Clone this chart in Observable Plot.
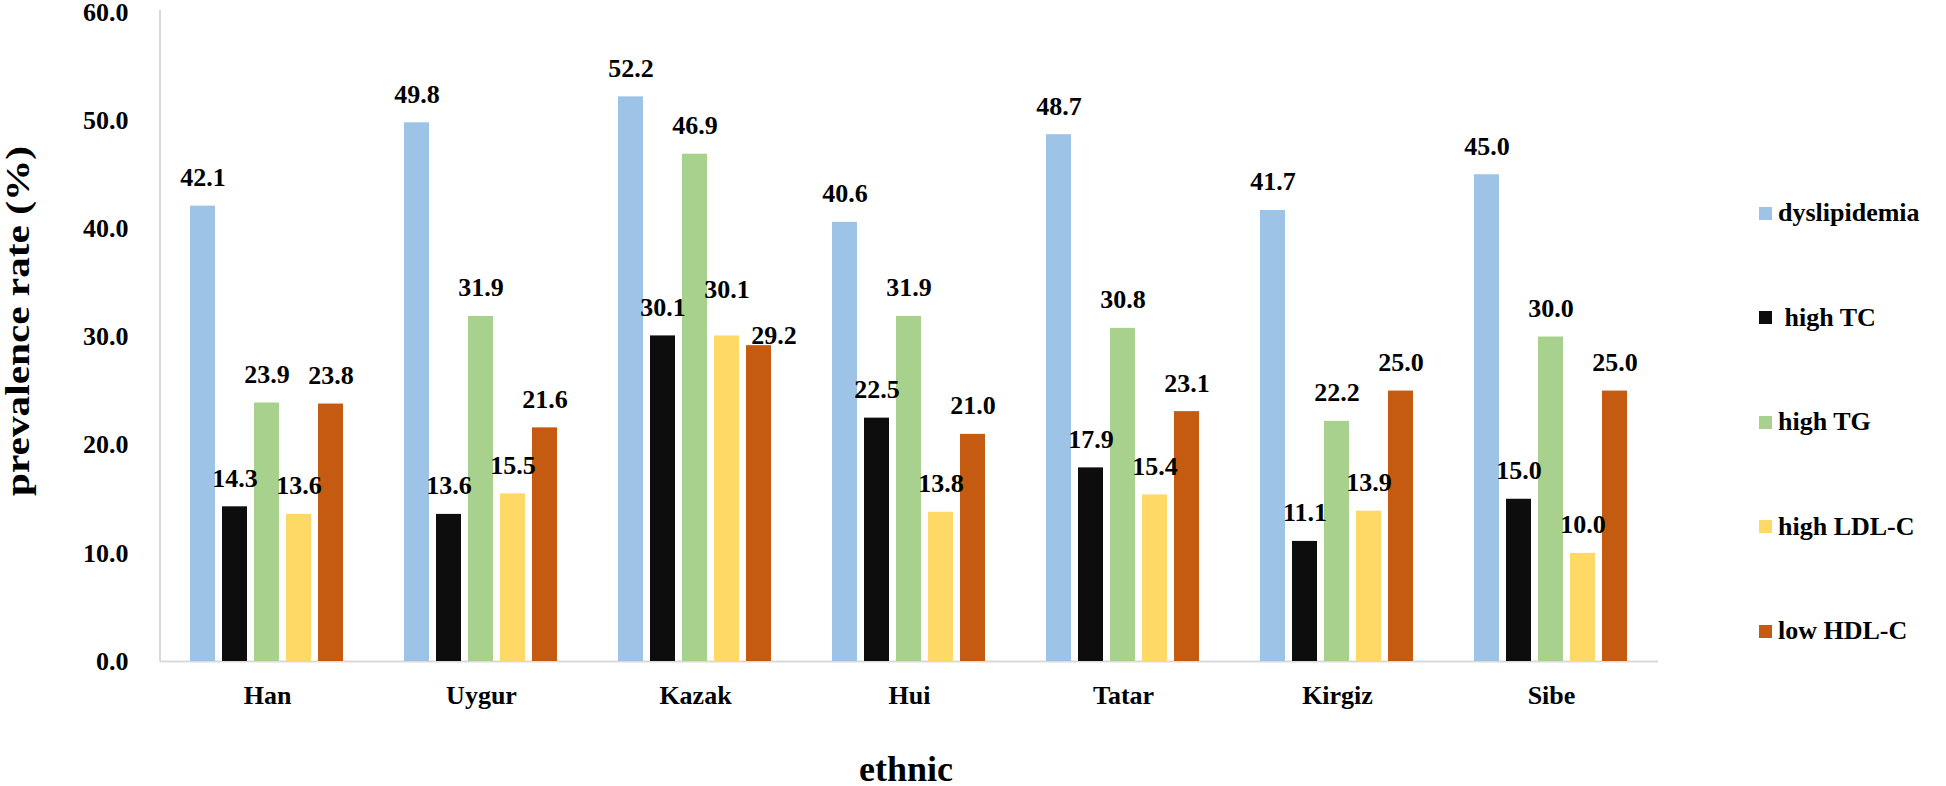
<!DOCTYPE html>
<html>
<head>
<meta charset="utf-8">
<script src="https://cdn.jsdelivr.net/npm/d3@7"></script>
<script src="https://cdn.jsdelivr.net/npm/@observablehq/plot@0.6"></script>
<style>
  html, body { margin: 0; padding: 0; background: #fff; }
  #wrap { position: relative; width: 1946px; height: 786px; font-family: "Liberation Serif", "Times New Roman", serif; font-weight: bold; color: #000; }
  #legend { position: absolute; left: 1759px; top: 161px; }
  .row { display: flex; align-items: center; height: 104.5px; font-size: 26px; white-space: pre; }
  .sw { width: 13px; height: 13px; margin-right: 6px; }
</style>
</head>
<body>
<div id="wrap"><div id="chart"></div><div id="legend"></div></div>
<script>
const ethnic = ["Han", "Uygur", "Kazak", "Hui", "Tatar", "Kirgiz", "Sibe"];
const series = ["dyslipidemia", " high TC", "high TG", "high LDL-C", "low HDL-C"];
const dyslipidemia = [42.1, 49.8, 52.2, 40.6, 48.7, 41.7, 45.0];
const highTC = [14.3, 13.6, 30.1, 22.5, 17.9, 11.1, 15.0];
const highTG = [23.9, 31.9, 46.9, 31.9, 30.8, 22.2, 30.0];
const highLDLC = [13.6, 15.5, 30.1, 13.8, 15.4, 13.9, 10.0];
const lowHDLC = [23.8, 21.6, 29.2, 21.0, 23.1, 25.0, 25.0];
const colors = ["#9DC3E6", "#0D0D0D", "#A9D18E", "#FFD966", "#C55A11"];
const yTicks = [0, 10, 20, 30, 40, 50, 60];

const seriesValues = [dyslipidemia, highTC, highTG, highLDLC, lowHDLC];
const data = ethnic.flatMap((e, i) => series.map((s, j) => ({ethnic: e, series: s, value: seriesValues[j][i]})));

// simple collision rule for neighbouring value labels whose values are nearly equal
function labelKind(d) {
  const i = ethnic.indexOf(d.ethnic), j = series.indexOf(d.series);
  const vals = seriesValues.map(a => a[i]);
  for (const k of [j - 1, j + 1]) {
    if (k < 0 || k >= vals.length) continue;
    if (Math.abs(vals[k] - vals[j]) < 2) return vals[j] < vals[k] ? "low" : "high";
  }
  return "normal";
}
const textOpts = {fx: "ethnic", x: "series", y: "value", text: d => d.value.toFixed(1), lineAnchor: "bottom", fontSize: 26, fontWeight: "bold", fill: "#000"};

const chart = Plot.plot({
  width: 1946,
  height: 786,
  marginLeft: 160,
  marginRight: 288,
  marginTop: 12,
  marginBottom: 125,
  style: {fontFamily: '"Liberation Serif", "Times New Roman", serif', fontWeight: "bold", fontSize: "26px", color: "#000", background: "#fff", overflow: "visible"},
  fx: {domain: ethnic, paddingInner: 0, paddingOuter: 0},
  x: {domain: series, paddingInner: 0.21, paddingOuter: 0.85, axis: null},
  y: {domain: [0, 60]},
  color: {domain: series, range: colors},
  marks: [
    Plot.ruleY([0], {stroke: "#D9D9D9", strokeWidth: 2}),
    Plot.barY(data, {fx: "ethnic", x: "series", y: "value", fill: "series"}),
    Plot.text(data, {...textOpts, filter: d => labelKind(d) === "normal", dy: -20}),
    Plot.text(data, {...textOpts, filter: d => labelKind(d) === "high", dy: -38}),
    Plot.text(data, {...textOpts, filter: d => labelKind(d) === "low", dy: -2, dx: 15}),
    Plot.axisY({ticks: yTicks, tickFormat: d => d.toFixed(1), tickSize: 0, tickPadding: 32, fontSize: 26, label: null}),
    Plot.axisFx({anchor: "bottom", tickSize: 0, tickPadding: 24, fontSize: 26, label: null})
  ]
});
document.getElementById("chart").appendChild(chart);

const svg = d3.select(chart);
const fxS = chart.scale("fx"), yS = chart.scale("y");

// y-axis line drawn from the plot's own scales
svg.insert("line", ":first-child")
  .attr("x1", fxS.range[0]).attr("x2", fxS.range[0])
  .attr("y1", yS.apply(0)).attr("y2", yS.apply(60) - 2)
  .attr("stroke", "#D9D9D9").attr("stroke-width", 2);

// axis titles
const yTitle = svg.append("text")
  .attr("text-anchor", "middle")
  .style("font-size", "33px").style("font-weight", "bold")
  .text("prevalence rate (%)");
const natural = yTitle.node().getComputedTextLength() || 280;
const targetLen = 350;
yTitle.attr("transform", `translate(29,${496 - targetLen / 2}) rotate(-90) scale(${targetLen / natural},1)`);

svg.append("text")
  .attr("x", (fxS.range[0] + fxS.range[1]) / 2 - 3).attr("y", 781)
  .attr("text-anchor", "middle")
  .style("font-size", "36px").style("font-weight", "bold")
  .text("ethnic");

const legend = d3.select("#legend");
series.forEach((s, j) => {
  const row = legend.append("div").attr("class", "row");
  row.append("div").attr("class", "sw").style("background", colors[j]);
  row.append("span").text(s);
});
</script>
</body>
</html>
